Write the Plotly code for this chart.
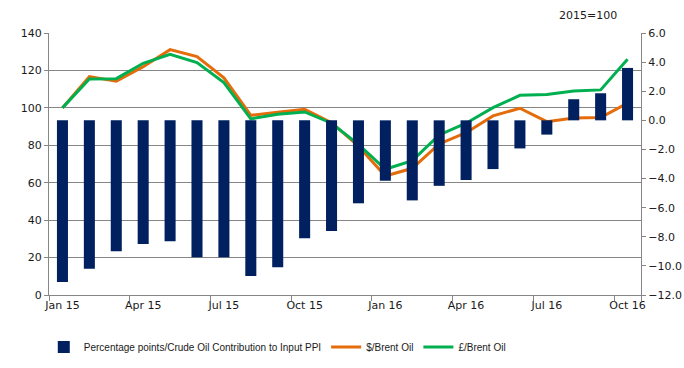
import plotly.graph_objects as go

months = ["Jan 15", "Feb 15", "Mar 15", "Apr 15", "May 15", "Jun 15", "Jul 15", "Aug 15",
          "Sep 15", "Oct 15", "Nov 15", "Dec 15", "Jan 16", "Feb 16", "Mar 16", "Apr 16",
          "May 16", "Jun 16", "Jul 16", "Aug 16", "Sep 16", "Oct 16"]

contribution = [-11.1, -10.2, -9.0, -8.5, -8.3, -9.4, -9.4, -10.7, -10.1, -8.1, -7.6,
                -5.7, -4.15, -5.5, -4.5, -4.1, -3.35, -1.93, -0.98, 1.45, 1.86, 3.6]

usd_brent = [100, 116.7, 114.2, 122, 131.1, 127.4, 116, 96, 97.6, 99.2, 92.1,
             79.5, 63.6, 67.7, 80.7, 86.7, 95.7, 99.8, 92.6, 94.6, 94.8, 102.5]

gbp_brent = [100, 115.4, 115.6, 123.8, 128.6, 124.2, 113.5, 94.1, 96.6, 97.8, 91.8,
             80.5, 67.2, 71.8, 85.5, 91.8, 100.1, 106.7, 107.1, 109, 109.6, 126]

tick_idx = [0, 3, 6, 9, 12, 15, 18, 21]

NAVY = "#002060"
ORANGE = "#E46C0A"
GREEN = "#00B050"
AXIS = "#868686"
TICK_FONT = dict(family="DejaVu Sans, Verdana, sans-serif", size=11, color="#1a1a1a")

x = list(range(len(months)))

fig = go.Figure()
fig.add_trace(go.Bar(
    x=x, y=contribution, yaxis="y2", marker=dict(color=NAVY, line=dict(width=0)),
    name="Percentage points/Crude Oil Contribution to Input PPI",
))
fig.add_trace(go.Scatter(
    x=x, y=usd_brent, mode="lines", line=dict(color=ORANGE, width=3),
    name="$/Brent Oil",
))
fig.add_trace(go.Scatter(
    x=x, y=gbp_brent, mode="lines", line=dict(color=GREEN, width=3),
    name="£/Brent Oil",
))

fig.add_annotation(
    text="2015=100", xref="paper", yref="paper", x=0.91, xanchor="center",
    y=1.0, yanchor="middle", yshift=18, showarrow=False, font=TICK_FONT,
)

fig.update_layout(
    width=684, height=368,
    margin=dict(l=49, r=43, t=33, b=73, autoexpand=False),
    plot_bgcolor="white", paper_bgcolor="white",
    bargap=0.59,
    xaxis=dict(
        range=[-0.5, len(months) - 0.5],
        tickmode="array", tickvals=tick_idx, ticktext=[months[i] for i in tick_idx],
        ticks="", showgrid=False, zeroline=False,
        showline=True, linecolor=AXIS, linewidth=1,
        tickfont=TICK_FONT,
        minor=dict(tickmode="array", tickvals=[i - 0.5 for i in tick_idx] + [len(months) - 0.5],
                   ticks="outside", ticklen=5, tickcolor=AXIS, showgrid=False),
    ),
    yaxis=dict(
        range=[0, 140], dtick=20, showgrid=True, gridcolor=AXIS, gridwidth=1,
        zeroline=False, showline=True, linecolor=AXIS, ticks="outside", ticklen=4,
        tickcolor=AXIS, tickfont=TICK_FONT,
    ),
    yaxis2=dict(
        range=[-12, 6], dtick=2, overlaying="y", side="right", showgrid=False,
        zeroline=False, showline=True, linecolor=AXIS, ticks="outside", ticklen=4,
        tickcolor=AXIS, tickformat=".1f", tickfont=TICK_FONT,
    ),
    legend=dict(
        orientation="h", x=0.064, xanchor="left", xref="container",
        y=0.057, yanchor="middle", yref="container",
        font=dict(family="Liberation Sans Narrow, Liberation Sans, Arial, sans-serif",
                  size=10, color="#1a1a1a"),
        itemwidth=30, tracegroupgap=0,
    ),
    showlegend=True,
)

# drop the default 8px page margin so the figure fills the window
fig.write_html(
    "out.html",
    config={"displayModeBar": False},
    post_script="document.body.style.margin='0';",
)
